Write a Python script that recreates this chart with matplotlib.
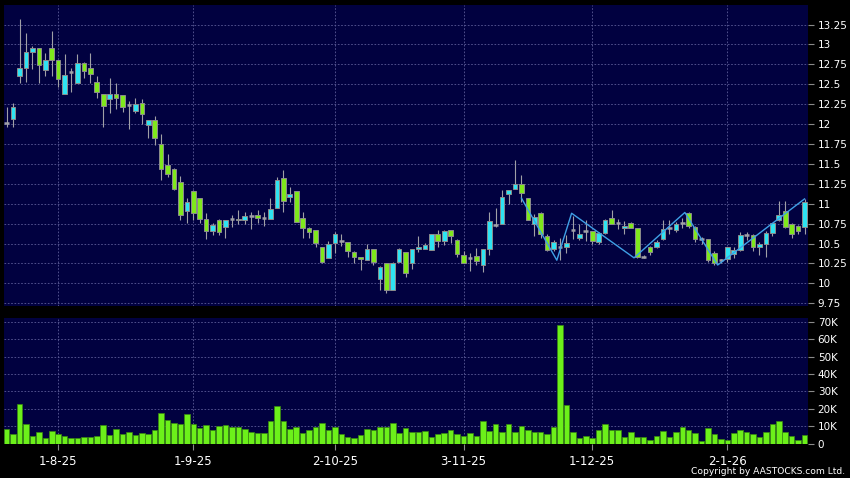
import matplotlib
matplotlib.use("Agg")
import matplotlib.pyplot as plt
import numpy as np

# daily candles, oldest first (22 Jul 2025 .. 20 Jan 2026)
opens = [12.02, 12.07, 12.61, 12.71, 12.91, 12.95, 12.68, 12.96, 12.80, 12.38,
         12.66, 12.51, 12.77, 12.71, 12.53, 12.38, 12.31, 12.38, 12.36, 12.24,
         12.17, 12.26, 11.99, 12.05, 11.75, 11.48, 11.43, 11.27, 10.91, 11.16,
         11.07, 10.81, 10.66, 10.79, 10.71, 10.81, 10.79, 10.79, 10.84, 10.86,
         10.82, 10.81, 10.945, 11.325, 11.09, 11.16, 10.825, 10.70, 10.667, 10.458,
         10.32, 10.51, 10.53, 10.52, 10.396, 10.33, 10.29, 10.425, 10.06, 10.25,
         9.92, 10.27, 10.39, 10.25, 10.425, 10.425, 10.417, 10.617, 10.533, 10.667,
         10.54, 10.36, 10.32, 10.34, 10.23, 10.425, 10.733, 10.74, 11.125, 11.19,
         11.25, 11.07, 10.75, 10.88, 10.60, 10.425, 10.458, 10.458, 10.665, 10.57,
         10.656, 10.656, 10.52, 10.63, 10.825, 10.755, 10.69, 10.757, 10.70, 10.33,
         10.46, 10.458, 10.5625, 10.69, 10.667, 10.76, 10.88, 10.71, 10.555, 10.555,
         10.385, 10.29, 10.30, 10.37, 10.415, 10.605, 10.605, 10.457, 10.50, 10.63,
         10.79, 10.907, 10.745, 10.716, 10.71]
highs = [12.21, 12.26, 13.32, 13.15, 12.98, 12.96, 12.89, 13.17, 12.80, 12.88,
         12.71, 12.875, 12.78, 12.89, 12.60, 12.38, 12.58, 12.51, 12.36, 12.29,
         12.33, 12.31, 12.05, 12.10, 11.88, 11.62, 11.45, 11.35, 11.07, 11.17,
         11.07, 10.88, 10.76, 10.81, 10.80, 10.86, 10.925, 10.90, 10.89, 10.925,
         10.89, 11.07, 11.34, 11.42, 11.21, 11.16, 10.90, 10.71, 10.667, 10.46,
         10.53, 10.65, 10.617, 10.52, 10.40, 10.33, 10.50, 10.425, 10.22, 10.26,
         10.27, 10.44, 10.39, 10.425, 10.60, 10.51, 10.625, 10.667, 10.667, 10.667,
         10.56, 10.40, 10.375, 10.446, 10.425, 10.90, 10.95, 11.175, 11.175, 11.55,
         11.36, 11.07, 10.875, 10.89, 10.625, 10.55, 10.57, 10.61, 10.85, 10.75,
         10.80, 10.66, 10.64, 10.81, 10.92, 10.81, 10.78, 10.77, 10.70, 10.36,
         10.47, 10.55, 10.80, 10.80, 10.77, 10.82, 10.89, 10.72, 10.58, 10.56,
         10.40, 10.31, 10.45, 10.46, 10.64, 10.65, 10.62, 10.52, 10.66, 10.76,
         11.04, 11.04, 10.76, 10.73, 11.06]
lows = [11.96, 11.96, 12.51, 12.53, 12.69, 12.51, 12.60, 12.60, 12.47, 12.38,
        12.40, 12.51, 12.58, 12.51, 12.33, 11.96, 12.14, 12.19, 12.15, 11.94,
        12.14, 12.00, 11.82, 11.74, 11.30, 11.33, 11.17, 10.79, 10.76, 10.80,
        10.76, 10.56, 10.61, 10.61, 10.57, 10.71, 10.75, 10.75, 10.68, 10.76,
        10.72, 10.81, 10.94, 10.90, 11.02, 10.77, 10.575, 10.575, 10.45, 10.26,
        10.32, 10.38, 10.467, 10.33, 10.26, 10.17, 10.29, 10.23, 9.92, 9.88,
        9.91, 10.27, 10.08, 10.175, 10.396, 10.425, 10.417, 10.45, 10.48, 10.51,
        10.33, 10.25, 10.158, 10.23, 10.146, 10.35, 10.71, 10.74, 10.99, 11.19,
        11.02, 10.79, 10.60, 10.575, 10.40, 10.40, 10.29, 10.375, 10.56, 10.55,
        10.53, 10.50, 10.50, 10.62, 10.74, 10.68, 10.62, 10.69, 10.32, 10.32,
        10.36, 10.44, 10.55, 10.62, 10.65, 10.70, 10.70, 10.52, 10.50, 10.27,
        10.23, 10.26, 10.27, 10.32, 10.40, 10.55, 10.40, 10.36, 10.33, 10.60,
        10.78, 10.70, 10.57, 10.62, 10.62]
closes = [12.02, 12.21, 12.71, 12.91, 12.95, 12.74, 12.80, 12.80, 12.57, 12.62,
          12.66, 12.77, 12.67, 12.63, 12.40, 12.23, 12.38, 12.33, 12.22, 12.24,
          12.25, 12.13, 12.05, 11.82, 11.43, 11.37, 11.18, 10.86, 11.02, 10.88,
          10.81, 10.66, 10.73, 10.65, 10.79, 10.81, 10.81, 10.84, 10.84, 10.82,
          10.82, 10.93, 11.30, 11.04, 11.125, 10.77, 10.70, 10.646, 10.51, 10.27,
          10.49, 10.625, 10.53, 10.40, 10.33, 10.30, 10.425, 10.27, 10.21, 9.92,
          10.25, 10.425, 10.125, 10.425, 10.458, 10.475, 10.617, 10.533, 10.66, 10.60,
          10.367, 10.25, 10.32, 10.28, 10.425, 10.78, 10.733, 11.09, 11.175, 11.25,
          11.14, 10.79, 10.83, 10.617, 10.417, 10.52, 10.458, 10.51, 10.665, 10.614,
          10.656, 10.53, 10.63, 10.80, 10.75, 10.755, 10.72, 10.70, 10.33, 10.33,
          10.39, 10.52, 10.6875, 10.69, 10.75, 10.76, 10.725, 10.555, 10.555, 10.29,
          10.26, 10.29, 10.45, 10.415, 10.605, 10.605, 10.457, 10.50, 10.63, 10.755,
          10.86, 10.71, 10.62, 10.66, 11.02]

# volume in thousands of shares
volumes_k = [8.3, 5.4, 22.5, 11, 4.2, 6.4, 2.9, 7.1, 5.2, 4.4,
             2.9, 3.1, 4, 4, 4.4, 10.6, 5, 8.1, 5.4, 6.6,
             5, 6, 5.4, 7.7, 17.5, 13.5, 11.6, 11.2, 16.8, 11,
             8.9, 10.6, 7.5, 10.2, 10.4, 9.6, 9.4, 8.1, 6.4, 6,
             6, 12.7, 21.4, 12.9, 8.5, 9.4, 6, 7.5, 9.6, 11.6,
             7.5, 9.6, 5.4, 3.7, 2.9, 5, 8.3, 7.9, 9.6, 9.4,
             11.6, 6.2, 8.9, 6.6, 6.6, 7.3, 3.9, 5.4, 6.2, 7.5,
             5.4, 4.2, 5.8, 4.4, 12.9, 7.3, 11, 6.9, 11.4, 6.9,
             10, 7.7, 6.6, 6.6, 5.2, 9.4, 68.4, 22, 6.6, 3.3,
             4.2, 3.3, 7.7, 11.2, 7.7, 7.7, 3.9, 6.9, 4, 3.9,
             2.3, 4.2, 7.3, 3.9, 6.4, 9.6, 7.7, 5.8, 1.3, 8.7,
             5.4, 2.5, 1.9, 5.8, 7.5, 6.9, 5.6, 3.9, 6.6, 11.2,
             12.9, 6.6, 4.6, 2.1, 4.8]

# zigzag overlay (bar position, price)
zig_idx = [80.0, 85.5, 87.8, 97.5, 105.4, 110.5, 124.0]
zig_px = [11.07, 10.29, 10.88, 10.32, 10.89, 10.23, 11.06]

tick_idx = [8, 29, 51, 71, 91, 112]
tick_labels = ["1-8-25", "1-9-25", "2-10-25", "3-11-25", "1-12-25", "2-1-26"]

price_ticks = np.arange(9.75, 13.26, 0.25)
vol_ticks = np.arange(0, 70001, 10000)

NAVY = "#010140"
CYAN = "#2ee3f2"
GREEN = "#7fe81c"
EDGE = "#8c8c8c"
WICK = "#a0a0a6"
GRID = "#5c5c98"
VOLG = "#6cf01a"

W, H = 850, 478
fig = plt.figure(figsize=(W / 100, H / 100), dpi=100, facecolor="black")
ax = fig.add_axes([4 / W, 1 - 306 / H, 804 / W, 301 / H], facecolor=NAVY)
axv = fig.add_axes([4 / W, 1 - 443.5 / H, 804 / W, 125.5 / H], facecolor=NAVY, sharex=ax)

x = np.arange(len(opens))
o = np.array(opens)
c = np.array(closes)
up = c > o
down = c < o
flat = c == o
lo = np.minimum(o, c)
hgt = np.abs(c - o)

# candles
ax.vlines(x, lows, highs, color=WICK, lw=0.8, zorder=2)
ax.bar(x[up], hgt[up], 0.72, bottom=lo[up], color=CYAN, edgecolor=EDGE, lw=0.7, zorder=3)
ax.bar(x[down], hgt[down], 0.72, bottom=lo[down], color=GREEN, edgecolor=EDGE, lw=0.7, zorder=3)
ax.hlines(o[flat], x[flat] - 0.36, x[flat] + 0.36, color=WICK, lw=1.8, zorder=3)

ax.plot(zig_idx, zig_px, color="#3fa0e6", lw=1.0, zorder=4)

# volume
axv.bar(x, np.array(volumes_k) * 1000, 0.86, color=VOLG, edgecolor="#3a8a10", lw=0.5, zorder=3)

ax.set_xlim(-0.42, 124.54)
ax.set_ylim(9.715, 13.496)
axv.set_ylim(0, 72300)

for a in (ax, axv):
    for s in a.spines.values():
        s.set_visible(False)
    a.yaxis.tick_right()
    a.tick_params(axis="y", colors="#8a8a8a", labelcolor="white", length=4, width=0.8,
                  pad=3, labelsize=7.5)
    a.set_xticks(tick_idx)
    a.grid(True, color=GRID, lw=0.6, linestyle=(0, (2, 2)), zorder=1)
    a.set_axisbelow(True)

ax.set_yticks(price_ticks)
ax.set_yticklabels(["%g" % v for v in price_ticks])
ax.tick_params(axis="x", length=0, labelbottom=False)

axv.set_yticks(vol_ticks)
axv.set_yticklabels(["0"] + ["%dK" % (v // 1000) for v in vol_ticks[1:]])
axv.set_xticklabels(tick_labels)
axv.tick_params(axis="x", colors="#8a8a8a", labelcolor="white", length=4, width=0.8,
                pad=4, labelsize=8.5)

fig.text(845 / W, 1 - 472 / H, "Copyright by AASTOCKS.com Ltd.", ha="right", va="center",
         color="white", fontsize=6.6)

fig.savefig("out.png", dpi=100, facecolor="black")
